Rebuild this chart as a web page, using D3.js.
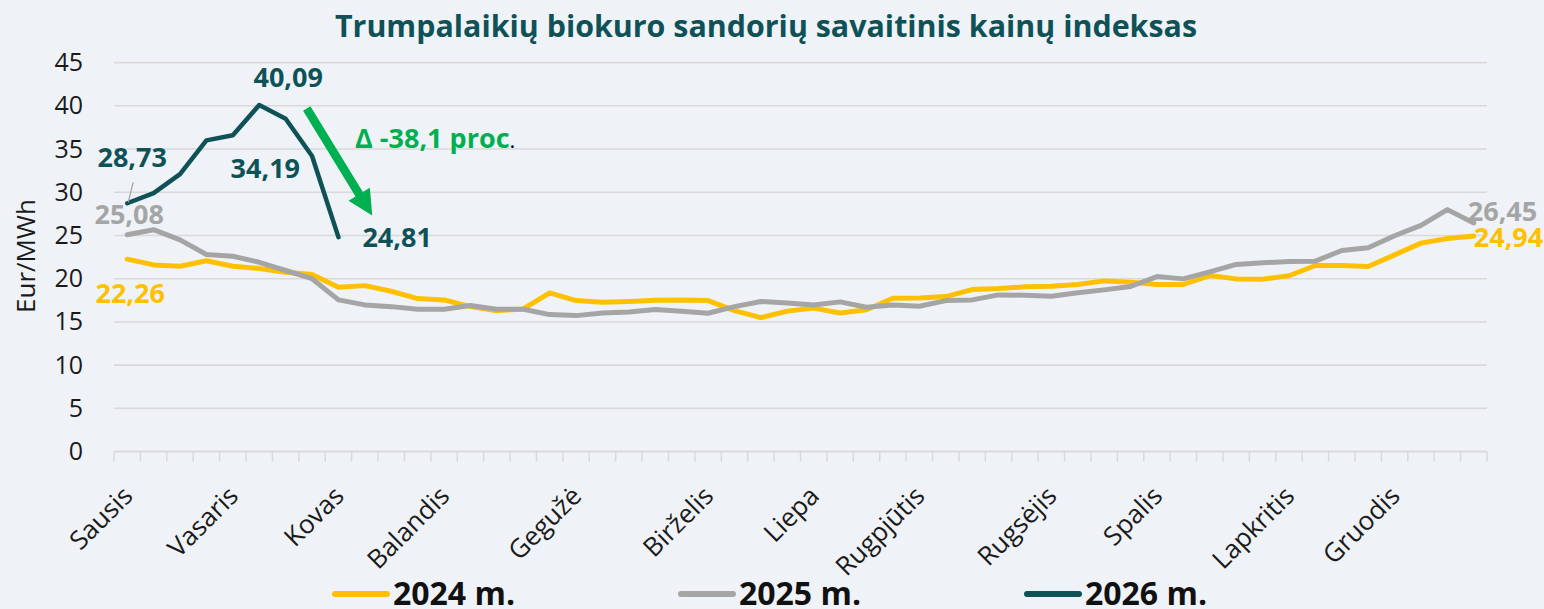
<!DOCTYPE html>
<html>
<head>
<meta charset="utf-8">
<script src="https://cdn.jsdelivr.net/npm/d3@7"></script>
<style>
  html, body { margin: 0; padding: 0; background: #eff3f7; }
  svg { display: block; }
</style>
</head>
<body>
<svg id="svg_chart" width="1544" height="609"></svg>
<script>
// weekly categories, month name on the first week of each month
const week_labels = [
  'Sausis', '', '', '', 'Vasaris', '', '', '', 'Kovas', '',
  '', '', 'Balandis', '', '', '', '', 'Gegužė', '', '',
  '', '', 'Birželis', '', '', '', 'Liepa', '', '', '',
  'Rugpjūtis', '', '', '', '', 'Rugsėjis', '', '', '', 'Spalis',
  '', '', '', '', 'Lapkritis', '', '', '', 'Gruodis', '',
  '', '',
];

const values_2024 = [
  22.26, 21.6, 21.45, 22.07, 21.45, 21.18, 20.75, 20.48, 19.0, 19.2,
  18.55, 17.7, 17.55, 16.77, 16.3, 16.5, 18.37, 17.47, 17.28, 17.36,
  17.5, 17.55, 17.47, 16.3, 15.5, 16.25, 16.6, 16.04, 16.4, 17.74,
  17.78, 17.93, 18.74, 18.86, 19.06, 19.13, 19.33, 19.75, 19.6, 19.33,
  19.33, 20.37, 19.98, 19.95, 20.34, 21.53, 21.53, 21.41, 22.76, 24.12,
  24.66, 24.94,
];

const values_2025 = [
  25.08, 25.67, 24.5, 22.8, 22.6, 21.9, 20.95, 20.0, 17.55, 16.97,
  16.77, 16.46, 16.46, 16.9, 16.46, 16.46, 15.85, 15.73, 16.04, 16.16,
  16.43, 16.23, 16.0, 16.77, 17.36, 17.2, 16.97, 17.32, 16.7, 16.97,
  16.81, 17.47, 17.55, 18.13, 18.09, 17.97, 18.37, 18.71, 19.1, 20.25,
  19.98, 20.8, 21.65, 21.84, 21.99, 22.03, 23.27, 23.58, 24.97, 26.17,
  27.99, 26.45,
];

const values_2026 = [28.73, 29.9, 32.1, 36.0, 36.6, 40.09, 38.5, 34.19, 24.81];

const series_names = ['2024 m.', '2025 m.', '2026 m.'];
const y_ticks = [0, 5, 10, 15, 20, 25, 30, 35, 40, 45];
const change_text = 'Δ -38,1 proc';

const colors = ['#ffc000', '#a5a5a5', '#0e5257'];
const color_grid = '#d9d9d9';
const color_arrow = '#00b050';
const font = '"Open Sans", "Noto Sans", sans-serif';

const svg_chart = d3.select('svg#svg_chart'),
  margin = { top: 62, right: 57, bottom: 158, left: 114 },
  width_chart = +svg_chart.attr('width'),
  height_chart = +svg_chart.attr('height');

const x = d3.scaleLinear()
  .domain([0, week_labels.length])
  .range([margin.left, width_chart - margin.right]);
const y = d3.scaleLinear()
  .domain([0, 45])
  .range([height_chart - margin.bottom + 0.6, margin.top + 0.6]);
const cx = i => x(i + 0.5);

const fmt = v => d3.format('.2f')(v).replace('.', ',');

svg_chart.append('rect')
  .attr('width', width_chart)
  .attr('height', height_chart)
  .attr('fill', '#eff3f7');

// title
svg_chart.append('text')
  .attr('x', 335)
  .attr('y', 37)
  .attr('textLength', 862)
  .attr('lengthAdjust', 'spacingAndGlyphs')
  .style('font-family', font)
  .style('font-size', '31px')
  .style('font-weight', 700)
  .attr('fill', '#0e5257')
  .text('Trumpalaikių biokuro sandorių savaitinis kainų indeksas');

// grid lines
svg_chart.append('g')
  .selectAll('line')
  .data(y_ticks.filter(d => d > 0))
  .enter()
  .append('line')
  .attr('x1', x.range()[0])
  .attr('x2', x.range()[1])
  .attr('y1', d => y(d))
  .attr('y2', d => y(d))
  .attr('stroke', color_grid)
  .attr('stroke-width', 1.6);

// y axis labels
const y_axis = svg_chart.append('g')
  .attr('transform', `translate(${margin.left},0)`)
  .call(d3.axisLeft(y).tickValues(y_ticks).tickSize(0).tickPadding(31));
y_axis.select('.domain').remove();
y_axis.selectAll('text')
  .style('font-family', font)
  .style('font-size', '25px')
  .attr('fill', '#1a1a1a');

svg_chart.append('text')
  .attr('transform', 'translate(35,256) rotate(-90)')
  .attr('text-anchor', 'middle')
  .style('font-family', font)
  .style('font-size', '26px')
  .attr('fill', '#1a1a1a')
  .text('Eur/MWh');

// x axis: line, ticks between categories, month labels
svg_chart.append('line')
  .attr('x1', x.range()[0])
  .attr('x2', x.range()[1])
  .attr('y1', y(0))
  .attr('y2', y(0))
  .attr('stroke', color_grid)
  .attr('stroke-width', 2);

svg_chart.append('g')
  .selectAll('line')
  .data(d3.range(week_labels.length + 1))
  .enter()
  .append('line')
  .attr('x1', d => x(d))
  .attr('x2', d => x(d))
  .attr('y1', y(0))
  .attr('y2', y(0) + 10)
  .attr('stroke', color_grid)
  .attr('stroke-width', 1.5);

svg_chart.append('g')
  .selectAll('text')
  .data(week_labels.map((d, i) => ({ label: d, i })).filter(d => d.label !== ''))
  .enter()
  .append('text')
  .attr('transform', d => `translate(${cx(d.i) + 7},${y(0) + 46}) rotate(-45)`)
  .attr('text-anchor', 'end')
  .style('font-family', font)
  .style('font-size', '26px')
  .attr('fill', '#1a1a1a')
  .text(d => d.label);

// series lines
const line = d3.line()
  .x((d, i) => cx(i))
  .y(d => y(d));

svg_chart.append('g')
  .selectAll('path')
  .data([values_2024, values_2025, values_2026])
  .enter()
  .append('path')
  .attr('d', line)
  .attr('fill', 'none')
  .attr('stroke', (d, i) => colors[i])
  .attr('stroke-width', (d, i) => (i === 2 ? 4.5 : 5))
  .attr('stroke-linejoin', 'round')
  .attr('stroke-linecap', 'round');

// data labels
const last = values_2024.length - 1;
const labels = [
  { values: values_2026, i: 0, color: colors[2], dx: 5, dy: -36, anchor: 'middle' },
  { values: values_2026, i: 5, color: colors[2], dx: 29, dy: -18, anchor: 'middle' },
  { values: values_2026, i: 7, color: colors[2], dx: -12, dy: 22, anchor: 'end' },
  { values: values_2026, i: 8, color: colors[2], dx: 24, dy: 10, anchor: 'start' },
  { values: values_2025, i: 0, color: colors[1], dx: 2, dy: -11, anchor: 'middle' },
  { values: values_2024, i: 0, color: colors[0], dx: 3, dy: 44, anchor: 'middle' },
  { values: values_2025, i: last, color: colors[1], dx: -6, dy: -2, anchor: 'start' },
  { values: values_2024, i: last, color: colors[0], dx: 0, dy: 11, anchor: 'start' },
];

svg_chart.append('line')
  .attr('x1', cx(0) + 1)
  .attr('y1', y(values_2026[0]) - 1)
  .attr('x2', cx(0) + 6)
  .attr('y2', y(values_2026[0]) - 21)
  .attr('stroke', '#a5a5a5')
  .attr('stroke-width', 1.2);

svg_chart.append('g')
  .selectAll('text')
  .data(labels)
  .enter()
  .append('text')
  .attr('x', d => cx(d.i) + d.dx)
  .attr('y', d => y(d.values[d.i]) + d.dy)
  .attr('text-anchor', d => d.anchor)
  .style('font-family', font)
  .style('font-size', '27px')
  .style('font-weight', 700)
  .attr('fill', d => d.color)
  .text(d => fmt(d.values[d.i]));

// drop arrow
const arrow_start = [x(7.3), y(39.7)];
const arrow_end = [x(9.78), y(27.3)];
const len = Math.hypot(arrow_end[0] - arrow_start[0], arrow_end[1] - arrow_start[1]);
const u = [(arrow_end[0] - arrow_start[0]) / len, (arrow_end[1] - arrow_start[1]) / len];
const n = [-u[1], u[0]];
const head_len = 25, head_w = 12.5, shaft_w = 4.3;
const base = [arrow_end[0] - u[0] * head_len, arrow_end[1] - u[1] * head_len];
const pt = (p, k) => [p[0] + n[0] * k, p[1] + n[1] * k];
svg_chart.append('path')
  .attr('d', d3.line()([
    pt(arrow_start, shaft_w), pt(base, shaft_w), pt(base, head_w), arrow_end,
    pt(base, -head_w), pt(base, -shaft_w), pt(arrow_start, -shaft_w),
  ]) + 'Z')
  .attr('fill', color_arrow);

const change = svg_chart.append('text')
  .attr('x', x(9.13))
  .attr('y', 148)
  .style('font-family', font)
  .style('font-size', '27px');
change.append('tspan')
  .style('font-weight', 700)
  .attr('fill', color_arrow)
  .text(change_text);
change.append('tspan')
  .attr('fill', '#000')
  .style('font-size', '22px')
  .text('.');

// legend
const legend = svg_chart.append('g')
  .selectAll('g')
  .data(series_names)
  .enter()
  .append('g')
  .attr('transform', (d, i) => `translate(${333 + i * 346},0)`);
legend.append('line')
  .attr('x1', 2)
  .attr('x2', 54)
  .attr('y1', 594)
  .attr('y2', 594)
  .attr('stroke', (d, i) => colors[i])
  .attr('stroke-width', 6)
  .attr('stroke-linecap', 'round');
legend.append('text')
  .attr('x', 60)
  .attr('y', 605)
  .attr('textLength', 122)
  .attr('lengthAdjust', 'spacingAndGlyphs')
  .style('font-family', font)
  .style('font-size', '32px')
  .style('font-weight', 700)
  .attr('fill', '#111')
  .text(d => d);
</script>
</body>
</html>
